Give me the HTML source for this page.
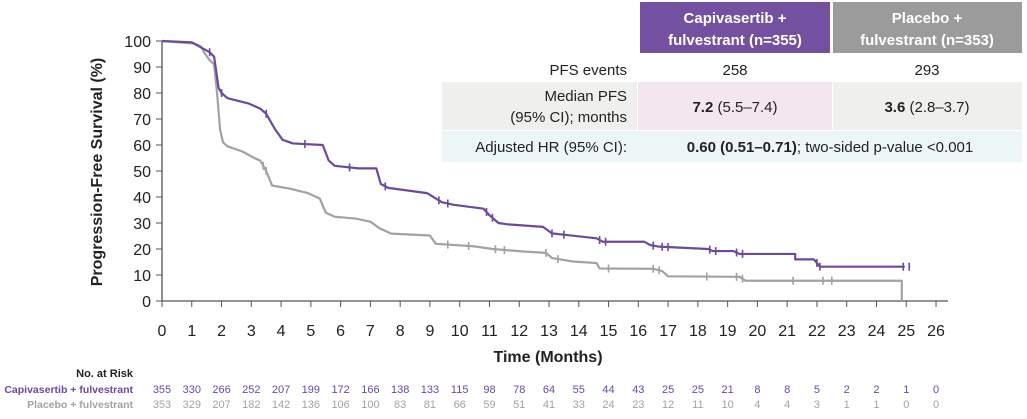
<!DOCTYPE html>
<html><head><meta charset="utf-8"><style>
body{margin:0;background:#fff;width:1027px;height:414px;overflow:hidden;font-family:"Liberation Sans",sans-serif;}
svg text{font-family:"Liberation Sans",sans-serif;}
</style></head><body>
<svg id="c" width="1027" height="414" xmlns="http://www.w3.org/2000/svg">
<g>
<rect x="640" y="2" width="190" height="51" fill="#7451a0"/>
<rect x="833" y="2" width="189" height="51" fill="#9b9b9b"/>
<text x="735" y="23" fill="#fff" font-size="15" font-weight="bold" text-anchor="middle">Capivasertib +</text>
<text x="735" y="45" fill="#fff" font-size="15" font-weight="bold" text-anchor="middle">fulvestrant (n=355)</text>
<text x="927" y="23" fill="#fff" font-size="15" font-weight="bold" text-anchor="middle">Placebo +</text>
<text x="927" y="45" fill="#fff" font-size="15" font-weight="bold" text-anchor="middle">fulvestrant (n=353)</text>
<text x="627" y="75" font-size="15" text-anchor="end" fill="#222">PFS events</text>
<text x="735" y="75" font-size="15" text-anchor="middle" fill="#222">258</text>
<text x="927" y="75" font-size="15" text-anchor="middle" fill="#222">293</text>
<rect x="442" y="82" width="195" height="48" fill="#efefed"/>
<rect x="638" y="82" width="194" height="48" fill="#f3e6ee"/>
<rect x="833" y="82" width="189" height="48" fill="#efefed"/>
<text x="627" y="101" font-size="15" text-anchor="end" fill="#222">Median PFS</text>
<text x="627" y="122" font-size="15" text-anchor="end" fill="#222">(95% CI); months</text>
<text x="735" y="112" font-size="15" text-anchor="middle" fill="#222"><tspan font-weight="bold">7.2</tspan> (5.5–7.4)</text>
<text x="927" y="112" font-size="15" text-anchor="middle" fill="#222"><tspan font-weight="bold">3.6</tspan> (2.8–3.7)</text>
<rect x="442" y="131" width="580" height="31" fill="#edf6f6"/>
<text x="627" y="152" font-size="15" text-anchor="end" fill="#222">Adjusted HR (95% CI):</text>
<text x="830" y="152" font-size="15" text-anchor="middle" fill="#222"><tspan font-weight="bold">0.60 (0.51–0.71)</tspan>; two-sided p-value &lt;0.001</text>
</g>
<g id="axes"></g>
<g id="curves"></g>
<g id="risk"></g>
</svg>
<script>
const months=[0,1,2,3,4,5,6,7,8,9,10,11,12,13,14,15,16,17,18,19,20,21,22,23,24,25,26];
const yTicks=[0,10,20,30,40,50,60,70,80,90,100];
const capT=[0,1.0,1.6,1.75,1.9,2.0,2.2,2.9,3.3,3.5,3.8,4.05,4.4,5.4,5.6,5.8,6.6,7.2,7.35,7.6,8.9,9.4,9.8,10.8,11.0,11.3,11.6,12.8,13.1,13.5,14.6,14.8,16.2,16.4,16.7,18.35,18.5,19.2,19.4,21.27,21.27,21.9,22.1,24.95];
const capS=[100,99.5,95.7,94,82,80,78,76,74,72,66,62,60.6,60,54,52,51,51,45,43.5,41.5,38,37,35.5,33,30,29.5,28.5,26,25.5,24.1,22.8,22.8,21.5,20.9,20,19.2,19.2,18.1,18.1,16,16,13.2,13.2];
const plaT=[0,1.1,1.3,1.45,1.6,1.75,1.85,1.95,2.05,2.2,2.7,3.1,3.3,3.5,3.7,4.3,4.9,5.3,5.5,5.8,6.5,7.0,7.3,7.7,9.0,9.2,10.5,11.1,12.2,12.9,13.1,13.8,14.6,14.7,16.5,16.8,17.0,19.4,19.6,24.85,24.85];
const plaS=[100,99,98,95,92.6,91,80,66,61,59.5,57.5,55,54,50,44.4,43.2,41.5,39.4,34,32.4,31.7,30.5,28,25.9,25.2,22,21,20,19,18.5,16.5,15.2,14.6,12.5,12.4,11.5,9.5,9.3,7.8,7.8,0];
const capCens=[1.6,2.0,3.5,4.8,6.3,7.5,9.3,9.6,10.9,11.1,13.1,13.5,14.7,14.9,16.5,16.8,17.0,18.4,18.6,19.3,19.5,22.0,22.1,24.9,25.1];
const plaCens=[1.8,3.4,3.5,9.6,10.3,11.2,11.5,12.9,13.3,15.0,16.5,16.7,18.3,19.3,19.5,21.2,22.2,22.5];
const capRisk=[355,330,266,252,207,199,172,166,138,133,115,98,78,64,55,44,43,25,25,21,8,8,5,2,2,1,0];
const plaRisk=[353,329,207,182,142,136,106,100,83,81,66,59,51,41,33,24,23,12,11,10,4,4,3,1,1,0,0];
const X=t=>162+t*29.77, Y=s=>301-s*2.6;
const NS='http://www.w3.org/2000/svg';
function mk(tag,attrs,parent,txt){const e=document.createElementNS(NS,tag);for(const k in attrs)e.setAttribute(k,attrs[k]);if(txt!==undefined)e.textContent=txt;parent.appendChild(e);return e;}
const ax=document.getElementById('axes');
let a=mk('line',{x1:162,y1:41,x2:162,y2:301,stroke:'#555','stroke-width':1.3},ax);


a=mk('line',{x1:162,y1:301,x2:948,y2:301,stroke:'#555','stroke-width':1.3},ax);


yTicks.forEach(v=>{mk('line',{x1:156,y1:Y(v),x2:162,y2:Y(v),stroke:'#555'},ax);
 const t=mk('text',{x:151,y:Y(v)+6,'font-size':16,'text-anchor':'end',fill:'#222'},ax,v);
 
 });
months.forEach(m=>{mk('line',{x1:X(m),y1:301,x2:X(m),y2:307,stroke:'#555'},ax);
 const t=mk('text',{x:X(m),y:336,'font-size':16,'text-anchor':'middle',fill:'#222'},ax,m);
 
 });
a=mk('text',{x:548,y:362,'font-size':16,'font-weight':'bold','text-anchor':'middle',fill:'#222'},ax,'Time (Months)');


a=mk('text',{x:0,y:0,'font-size':16,'font-weight':'bold','text-anchor':'middle',fill:'#222',transform:'translate(102,172) rotate(-90)'},ax,'Progression-Free Survival (%)');


const cv=document.getElementById('curves');
function linePath(T,S){let d='M'+X(T[0])+','+Y(S[0]);for(let i=1;i<T.length;i++){d+=' L'+X(T[i])+','+Y(S[i]);}return d;}
function survAt(T,S,t){for(let i=1;i<T.length;i++){if(T[i]>=t){const f=T[i]===T[i-1]?0:(t-T[i-1])/(T[i]-T[i-1]);return S[i-1]+f*(S[i]-S[i-1]);}}return S[S.length-1];}
function drawCurve(T,S,C,col,name){
 const p=mk('path',{d:linePath(T,S),fill:'none',stroke:col,'stroke-width':2.2,'stroke-linejoin':'round'},cv);
 
 
 C.forEach(t=>{const y=Y(survAt(T,S,t));const l=mk('line',{x1:X(t),y1:y-4,x2:X(t),y2:y+4,stroke:col,'stroke-width':1.6},cv);
  
  });
}
drawCurve(plaT,plaS,plaCens,'#a2a2a2','placebo-curve');
drawCurve(capT,capS,capCens,'#6e48a0','capivasertib-curve');
const rk=document.getElementById('risk');
a=mk('text',{x:133,y:377,'font-size':11,'font-weight':'bold','text-anchor':'end',fill:'#222'},rk,'No. at Risk');


a=mk('text',{x:133,y:393,'font-size':10.5,'font-weight':'bold','text-anchor':'end',fill:'#6e48a0'},rk,'Capivasertib + fulvestrant');


a=mk('text',{x:133,y:408,'font-size':10.5,'font-weight':'bold','text-anchor':'end',fill:'#a2a2a2'},rk,'Placebo + fulvestrant');


months.forEach((m,i)=>{
 let t=mk('text',{x:X(m),y:393,'font-size':11,'text-anchor':'middle',fill:'#6e48a0'},rk,capRisk[i]);
 
 
 t=mk('text',{x:X(m),y:408,'font-size':11,'text-anchor':'middle',fill:'#a2a2a2'},rk,plaRisk[i]);
 
 
});
</script>
</body></html>
